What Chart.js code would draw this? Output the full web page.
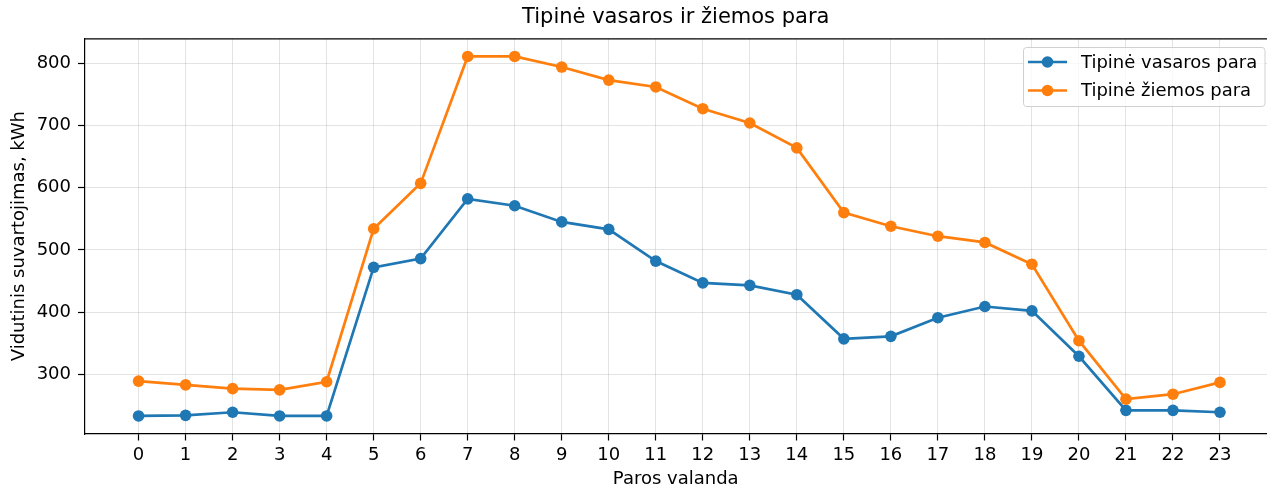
<!DOCTYPE html>
<html>
<head>
<meta charset="utf-8">
<script src="https://cdn.jsdelivr.net/npm/chart.js@4"></script>
<style>
  html, body { margin: 0; padding: 0; background: #fff; overflow: hidden; }
  #wrap { width: 1267px; height: 488px; }
</style>
</head>
<body>
<div id="wrap"><canvas id="c" width="1267" height="488"></canvas></div>
<script>
const hours = [0,1,2,3,4,5,6,7,8,9,10,11,12,13,14,15,16,17,18,19,20,21,22,23];
const summer = [233,234,239,233,233,472,486,582,571,545,533,482,447,443,428,357,361,391,409,402,329,242,242,239];
const winter = [289,283,277,275,288,534,607,811,811,794,773,762,727,704,664,560,538,522,512,477,354,260,268,287];
const yTicks = [300,400,500,600,700,800];
const seriesLabels = ['Tipinė vasaros para', 'Tipinė žiemos para'];
const titleText = 'Tipinė vasaros ir žiemos para';
const xTitle = 'Paros valanda';
const yTitle = 'Vidutinis suvartojimas, kWh';

const FONT = "'DejaVu Sans', sans-serif";
const BLUE = '#1f77b4';
const ORANGE = '#ff7f0e';

const topBorder = {
  id: 'topBorder',
  afterDraw(chart) {
    const {ctx, chartArea} = chart;
    ctx.save();
    ctx.strokeStyle = '#000';
    ctx.lineWidth = 1.2;
    ctx.beginPath();
    ctx.moveTo(chartArea.left, chartArea.top + 0.5);
    ctx.lineTo(chartArea.right, chartArea.top + 0.5);
    ctx.stroke();
    ctx.restore();
  }
};

const boxLegend = {
  id: 'boxLegend',
  afterDraw(chart) {
    const ctx = chart.ctx;
    const x0 = 1023.5, y0 = 47.5, w = 241.5, h = 59;
    ctx.save();
    ctx.fillStyle = 'rgba(255,255,255,0.8)';
    ctx.strokeStyle = '#d0d0d0';
    ctx.lineWidth = 1;
    ctx.beginPath();
    if (ctx.roundRect) ctx.roundRect(x0, y0, w, h, 3); else ctx.rect(x0, y0, w, h);
    ctx.fill();
    ctx.stroke();
    const rows = [62, 90.5];
    chart.data.datasets.forEach((ds, i) => {
      const y = rows[i];
      ctx.strokeStyle = ds.borderColor;
      ctx.lineWidth = 2.7;
      ctx.beginPath();
      ctx.moveTo(1028, y);
      ctx.lineTo(1067, y);
      ctx.stroke();
      ctx.fillStyle = ds.pointBackgroundColor;
      ctx.beginPath();
      ctx.arc(1047.5, y, 5.8, 0, Math.PI * 2);
      ctx.fill();
      ctx.fillStyle = '#000';
      ctx.font = '18px ' + FONT;
      ctx.textBaseline = 'middle';
      ctx.textAlign = 'left';
      ctx.fillText(ds.label, 1081, y + 1);
    });
    ctx.restore();
  }
};

new Chart(document.getElementById('c'), {
  type: 'line',
  data: {
    datasets: [
      {
        label: seriesLabels[0],
        data: hours.map((h, i) => ({x: h, y: summer[i]})),
        borderColor: BLUE, backgroundColor: BLUE,
        pointBackgroundColor: BLUE, pointBorderColor: BLUE,
        borderWidth: 2.7, pointRadius: 5.8, pointBorderWidth: 0,
        tension: 0, order: 1
      },
      {
        label: seriesLabels[1],
        data: hours.map((h, i) => ({x: h, y: winter[i]})),
        borderColor: ORANGE, backgroundColor: ORANGE,
        pointBackgroundColor: ORANGE, pointBorderColor: ORANGE,
        borderWidth: 2.7, pointRadius: 5.8, pointBorderWidth: 0,
        tension: 0, order: 0
      }
    ]
  },
  options: {
    responsive: false,
    animation: false,
    devicePixelRatio: 1,
    layout: { autoPadding: false, padding: { left: 0, right: -6, top: 0, bottom: 0 } },
    plugins: {
      legend: { display: false },
      tooltip: { enabled: false },
      title: {
        display: true,
        text: titleText,
        fullSize: false,
        color: '#000',
        font: { family: FONT, size: 21, weight: 'normal', lineHeight: 1.2 },
        padding: { top: 5, bottom: 8.1 }
      }
    },
    scales: {
      x: {
        type: 'linear',
        min: -1.15,
        max: 24.0,
        afterBuildTicks: s => { s.ticks = hours.map(v => ({value: v})); },
        afterFit: s => { s.height = 54; s.paddingRight = 0; s.paddingLeft = 0; },
        ticks: {
          color: '#000',
          font: { family: FONT, size: 18 },
          padding: 4.5,
          maxRotation: 0,
          autoSkip: false,
          callback: v => String(v)
        },
        grid: {
          color: 'rgba(176,176,176,0.35)',
          lineWidth: 1,
          drawTicks: true,
          tickLength: 6.5,
          tickColor: '#000',
          tickWidth: 1.2
        },
        border: { display: true, color: '#000', width: 1.2 },
        title: {
          display: true,
          text: xTitle,
          color: '#000',
          font: { family: FONT, size: 18, lineHeight: 1 },
          padding: { top: 0, bottom: 0 }
        }
      },
      y: {
        type: 'linear',
        min: 204,
        max: 840.2,
        afterBuildTicks: s => { s.ticks = yTicks.map(v => ({value: v})); },
        afterFit: s => { s.width = 84.5; },
        ticks: {
          color: '#000',
          font: { family: FONT, size: 18 },
          padding: 7,
          callback: v => String(v)
        },
        grid: {
          color: 'rgba(176,176,176,0.35)',
          lineWidth: 1,
          drawTicks: true,
          tickLength: 6.5,
          tickColor: '#000',
          tickWidth: 1.2
        },
        border: { display: true, color: '#000', width: 1.2 },
        title: {
          display: true,
          text: yTitle,
          color: '#000',
          font: { family: FONT, size: 18, lineHeight: 1 },
          padding: { top: 10.5, bottom: 0 }
        }
      }
    }
  },
  plugins: [topBorder, boxLegend]
});
</script>
</body>
</html>
